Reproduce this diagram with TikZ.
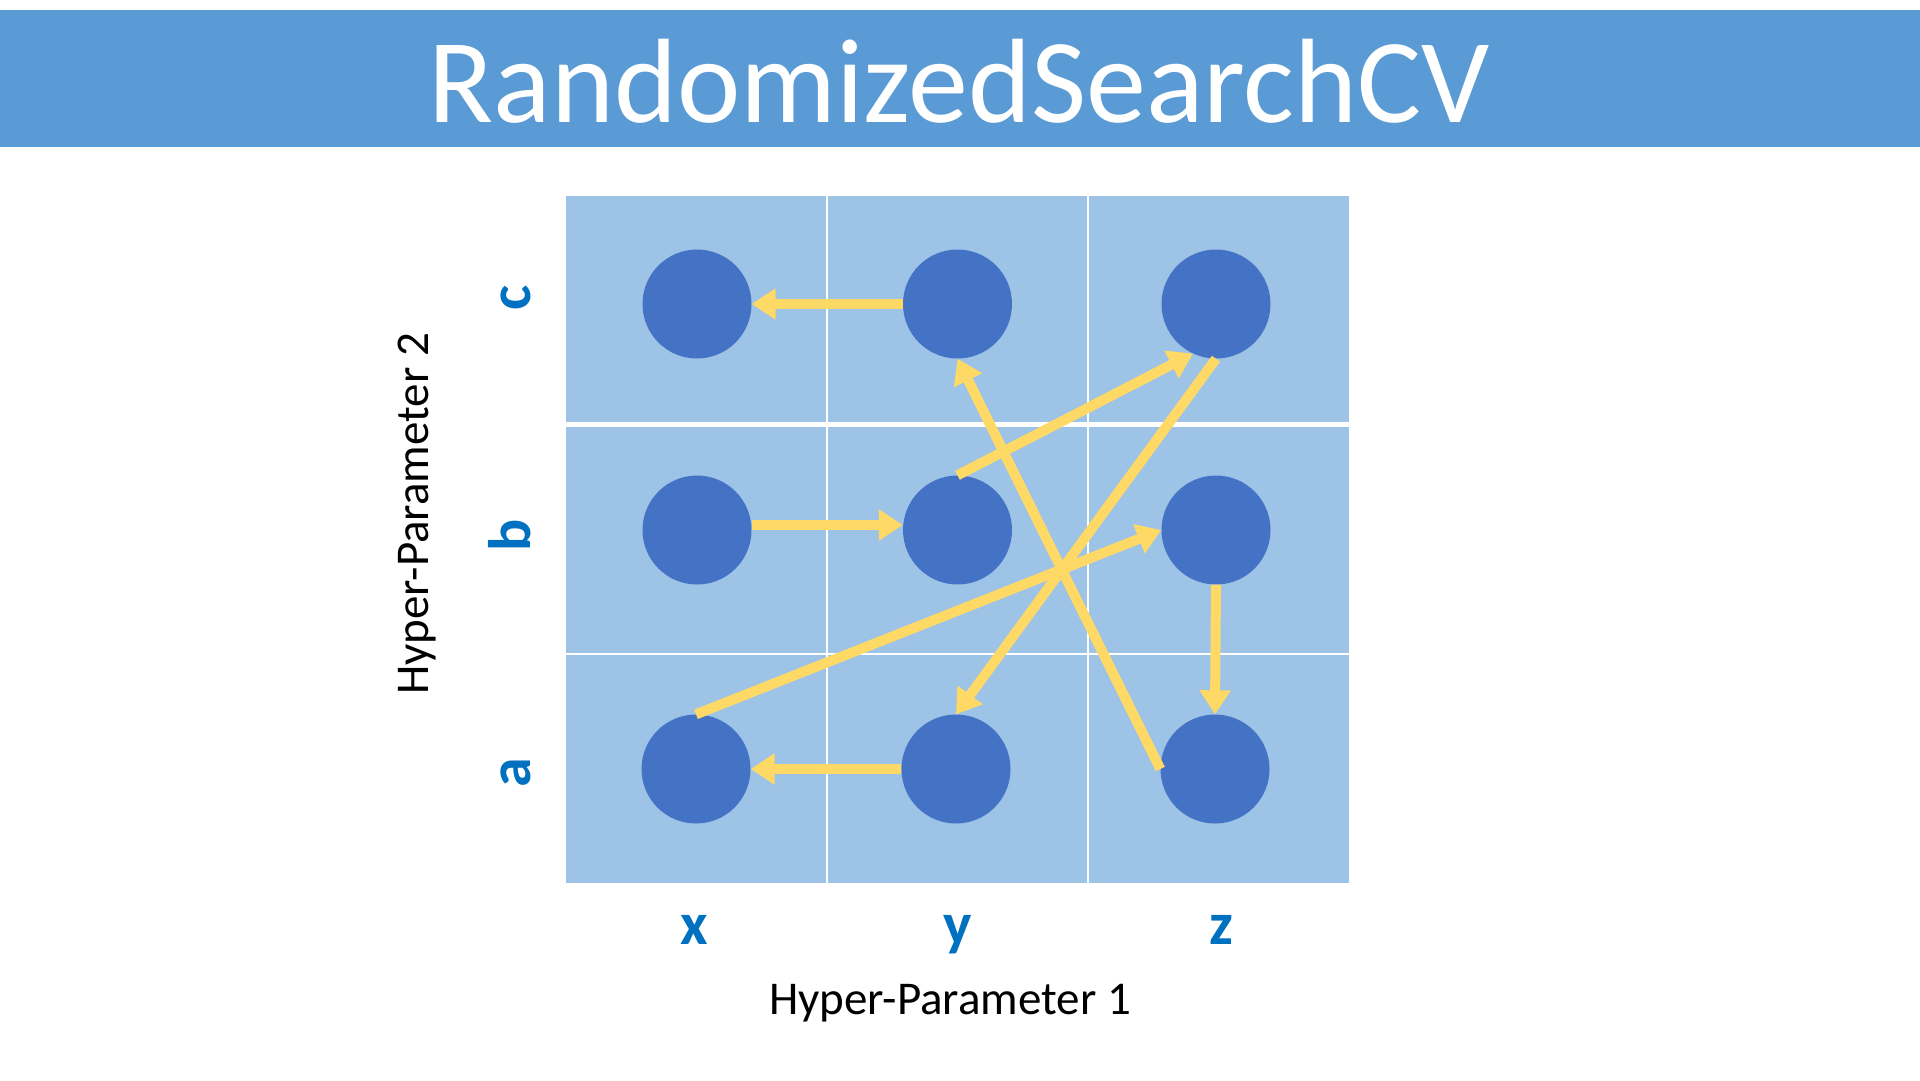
\documentclass[tikz,border=0pt]{standalone}
\usepackage{fontspec}
\setmainfont{Carlito}
\usetikzlibrary{arrows.meta}
\definecolor{hdr}{HTML}{5B9BD5}
\definecolor{cell}{HTML}{9DC3E6}
\definecolor{dot}{HTML}{4472C4}
\definecolor{arr}{HTML}{FFD966}
\definecolor{lbl}{HTML}{0070C0}
\tikzset{
  titletext/.style={text=white, font=\fontsize{120pt}{140pt}\selectfont, anchor=base, inner sep=0pt},
  axistext/.style={text=black, font=\fontsize{47pt}{56pt}\selectfont, anchor=base, inner sep=0pt},
  valtext/.style={text=lbl, font=\bfseries\fontsize{60pt}{70pt}\selectfont, anchor=base, inner sep=0pt},
  dotnode/.style={circle, fill=dot, minimum size=109pt, inner sep=0pt},
  conn/.style={draw=arr, line width=10pt, -{Triangle[width=30pt,length=24pt]}},
  divider/.style={draw=white, line width=2.5pt}
}
\begin{document}
\begin{tikzpicture}[x=1pt,y=-1pt]
\useasboundingbox (0,0) rectangle (1920,1080);
\fill[white] (0,0) rectangle (1920,1080);
% header
\fill[hdr] (0,10) rectangle (1920,147);
\node[titletext] (title) at (959,122) {RandomizedSearchCV};
% grid
\fill[cell] (566,196) rectangle (1349,883);
\draw[divider] (827,196) -- (827,883);
\draw[divider] (1088,196) -- (1088,883);
\draw[divider, line width=5pt] (566,424) -- (1349,424);
\draw[divider] (566,654) -- (1349,654);
% circles
\node[dotnode] (xc) at (697,304) {};
\node[dotnode] (yc) at (957.5,304) {};
\node[dotnode] (zc) at (1216,304) {};
\node[dotnode] (xb) at (697,530) {};
\node[dotnode] (yb) at (957.5,530) {};
\node[dotnode] (zb) at (1216,530) {};
\node[dotnode] (xa) at (696,769) {};
\node[dotnode] (ya) at (956,769) {};
\node[dotnode] (za) at (1215,769) {};
% connectors
\draw[conn] (yc) -- (xc);
\draw[conn] ([yshift=5pt]xb.east) -- ([yshift=5pt]yb.west);
\draw[conn] (yb.north) -- (zc.245);
\draw[conn] (zc.south) -- (ya.north);
\draw[conn] (xa.north) -- (zb.west);
\draw[conn] (zb.south) -- (za.north);
\draw[conn] (za.west) -- (yc.south);
\draw[conn] (ya) -- (xa);
% value labels
\node[valtext] (lx) at (694,944) {x};
\node[valtext] (ly) at (957.5,944) {y};
\node[valtext] (lz) at (1221,944) {z};
\node[valtext, rotate=90] (lc) at (530,298) {c};
\node[valtext, rotate=90] (lb) at (530,535) {b};
\node[valtext, rotate=90] (la) at (530,773) {a};
% axis labels
\node[axistext] (hp1) at (950,1014) {Hyper-Parameter 1};
\node[axistext, rotate=90] (hp2) at (428,514) {Hyper-Parameter 2};
\end{tikzpicture}
\end{document}
